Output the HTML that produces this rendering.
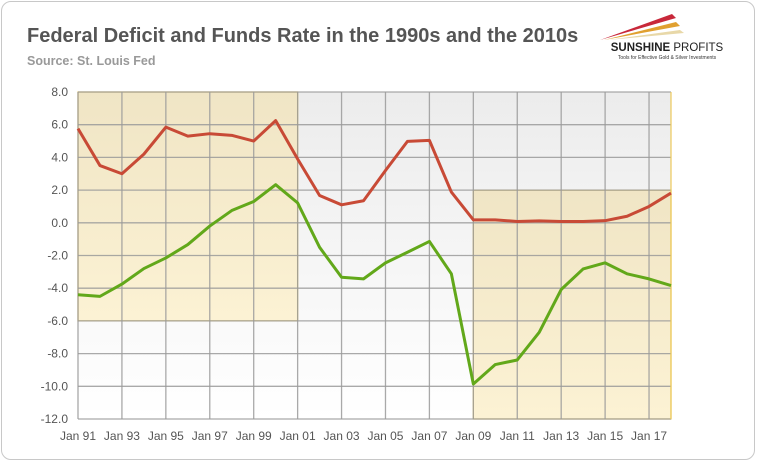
<!DOCTYPE html>
<html><head><meta charset="utf-8"><style>
body{margin:0;background:#fff;font-family:"Liberation Sans",sans-serif}
#card{position:absolute;left:1px;top:1px;width:752px;height:457px;border:1px solid #c8c8c8;border-radius:10px;background:#fff}
</style></head><body>
<div id="card"></div>
<svg width="757" height="462" style="position:absolute;left:0;top:0">
<defs>
<linearGradient id="bg" x1="0" y1="0" x2="0" y2="1"><stop offset="0" stop-color="#ececec"/><stop offset="1" stop-color="#ffffff"/></linearGradient>
<linearGradient id="box" x1="0" y1="0" x2="0" y2="1"><stop offset="0" stop-color="#f0e5c5"/><stop offset="1" stop-color="#fcf2d4"/></linearGradient>
</defs>
<text x="27" y="42" font-size="20" font-weight="bold" fill="#555">Federal Deficit and Funds Rate in the 1990s and the 2010s</text>
<text x="27" y="65" font-size="12.5" font-weight="bold" fill="#999">Source: St. Louis Fed</text>
<g>
<polygon points="600,40 672,14 676,18" fill="#c8283a"/>
<polygon points="604,40 676,22 680,26" fill="#e0a030"/>
<polygon points="608,40 680,30 684,33" fill="#e8d8a8"/>
<text x="667" y="51" font-size="11.5" font-weight="bold" fill="#222" text-anchor="middle">SUNSHINE <tspan font-weight="normal">PROFITS</tspan></text>
<text x="667" y="59" font-size="5" fill="#333" text-anchor="middle">Tools for Effective Gold &amp; Silver Investments</text>
</g>
<g id="plot"></g>
</svg>
<script>
const years=[1991,1992,1993,1994,1995,1996,1997,1998,1999,2000,2001,2002,2003,2004,2005,2006,2007,2008,2009,2010,2011,2012,2013,2014,2015,2016,2017,2018];
const fundsRate=[5.76,3.5,3.0,4.2,5.85,5.3,5.45,5.35,5.0,6.25,3.9,1.67,1.1,1.35,3.2,4.98,5.04,1.88,0.18,0.18,0.08,0.12,0.08,0.08,0.13,0.4,1.0,1.82];
const deficit=[-4.4,-4.5,-3.75,-2.8,-2.15,-1.33,-0.2,0.75,1.3,2.33,1.22,-1.5,-3.33,-3.43,-2.45,-1.8,-1.14,-3.12,-9.86,-8.67,-8.39,-6.7,-4.08,-2.82,-2.45,-3.12,-3.43,-3.84];
const yTicks=[8,6,4,2,0,-2,-4,-6,-8,-10,-12];
const xTickYears=[1991,1993,1995,1997,1999,2001,2003,2005,2007,2009,2011,2013,2015,2017];
const xTickLabels=["Jan 91","Jan 93","Jan 95","Jan 97","Jan 99","Jan 01","Jan 03","Jan 05","Jan 07","Jan 09","Jan 11","Jan 13","Jan 15","Jan 17"];
const boxes=[{from:1991,to:2001,top:8,bottom:-6},{from:2009,to:2018,top:2,bottom:-12}];
const X0=78,X1=671,Y0=92,Y1=419;
const xs=y=>X0+(y-1991)*(X1-X0)/(2018-1991);
const ys=v=>Y0+(8-v)*(Y1-Y0)/20;
const NS="http://www.w3.org/2000/svg",g=document.getElementById('plot');
function mk(t,a){const e=document.createElementNS(NS,t);for(const k in a)e.setAttribute(k,a[k]);g.appendChild(e);return e;}
let e=mk('rect',{x:X0,y:Y0,width:X1-X0,height:Y1-Y0,fill:'url(#bg)'});


boxes.forEach((b,i)=>{const r=mk('rect',{x:xs(b.from),y:ys(b.top),width:xs(b.to)-xs(b.from),height:ys(b.bottom)-ys(b.top),fill:'url(#box)',stroke:'#ecc95a','stroke-width':1.2});

});
yTicks.forEach(v=>{const l=mk('line',{x1:X0,x2:X1,y1:ys(v),y2:ys(v),stroke:'#9a9a9a','stroke-width':1.3,'stroke-opacity':0.85});


const t=mk('text',{x:68,y:ys(v)+4,'font-size':12,fill:'#555','text-anchor':'end'});t.textContent=v.toFixed(1);

});
xTickYears.forEach((yr,i)=>{const l=mk('line',{x1:xs(yr),x2:xs(yr),y1:Y0,y2:Y1,stroke:'#9a9a9a','stroke-width':1.3,'stroke-opacity':0.85});


const t=mk('text',{x:xs(yr),y:440,'font-size':12,fill:'#555','text-anchor':'middle'});t.textContent=xTickLabels[i];

});
mk('line',{x1:X1,x2:X1,y1:Y0,y2:Y1,stroke:'#ecc95a','stroke-width':1.2});
function series(vals,col,name){const p=mk('polyline',{points:vals.map((v,i)=>xs(years[i])+','+ys(v)).join(' '),fill:'none',stroke:col,'stroke-width':3,'stroke-linejoin':'round'});

}
series(deficit,'#62a81a','deficit-line');
series(fundsRate,'#c84a36','funds-rate-line');
</script>
</body></html>
